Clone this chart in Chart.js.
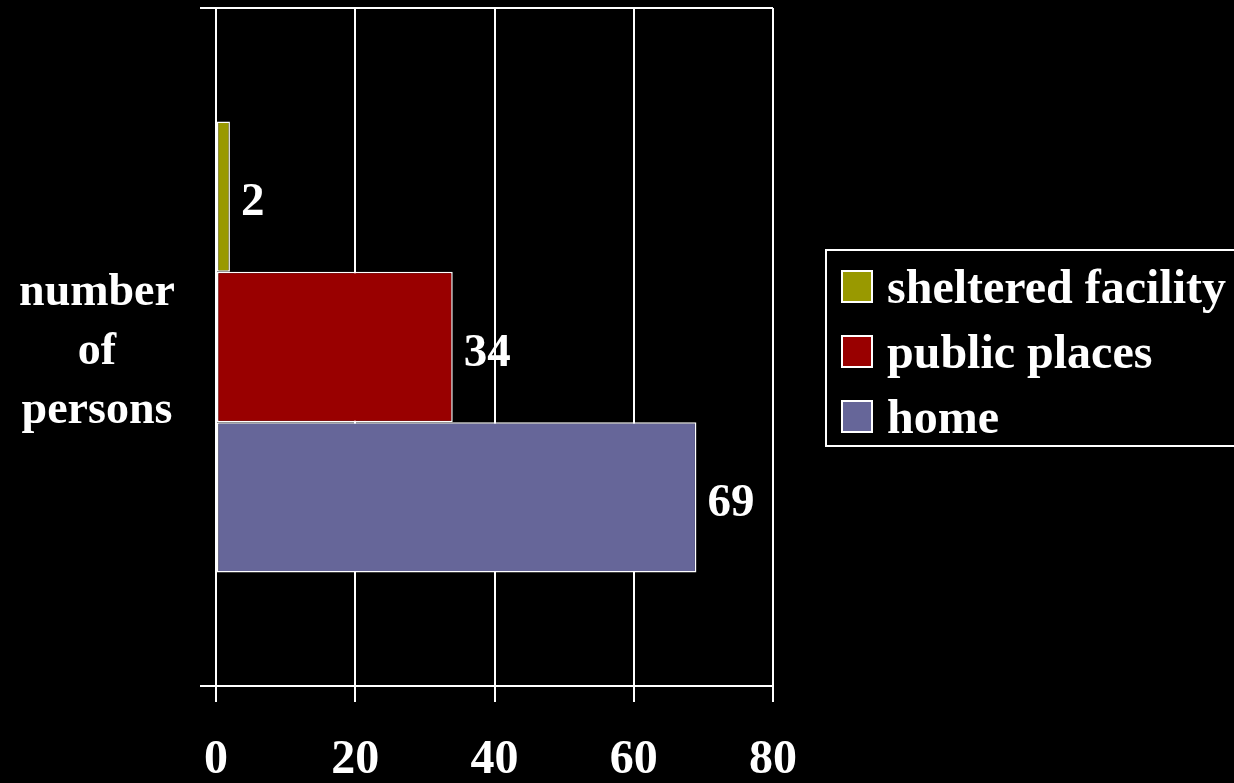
<!DOCTYPE html>
<html>
<head>
<meta charset="utf-8">
<script src="https://cdn.jsdelivr.net/npm/chart.js@4.4.0/dist/chart.umd.min.js"></script>
<style>
  body { margin: 0; background: #000; }
  canvas { display: block; }
</style>
</head>
<body>
<canvas id="chart" width="1234" height="783"></canvas>
<script>
let places = ["sheltered facility", "public places", "home"];
let persons = [2, 34, 69];
let placeColors = ["#999900", "#990000", "#666699"];
let xMin = 0;
let xMax = 80;
let xStep = 20;
let axisTitle = ["number", "of", "persons"];

const serif = '"Liberation Serif", "Times New Roman", serif';

let datasets = places.map((name, i) => ({
  label: name,
  data: [persons[i]],
  backgroundColor: placeColors[i],
  borderColor: "#ffffff",
  borderWidth: 1.5,
  borderSkipped: false,
  categoryPercentage: 0.665,
  barPercentage: 1.0,
}));

// numbers next to the bar ends
const valueLabels = {
  id: "valueLabels",
  afterDatasetsDraw(chart) {
    const ctx = chart.ctx;
    ctx.save();
    ctx.font = "bold 47px " + serif;
    ctx.fillStyle = "#ffffff";
    ctx.textAlign = "left";
    ctx.textBaseline = "alphabetic";
    chart.data.datasets.forEach((ds, i) => {
      chart.getDatasetMeta(i).data.forEach((bar, j) => {
        ctx.fillText(String(ds.data[j]), bar.x + 11, bar.y + 18.5);
      });
    });
    ctx.restore();
  },
};

// horizontal title left of the y axis
const sideTitle = {
  id: "sideTitle",
  afterDraw(chart) {
    const ctx = chart.ctx;
    const mid = (chart.chartArea.top + chart.chartArea.bottom) / 2;
    ctx.save();
    ctx.font = "bold 46px " + serif;
    ctx.fillStyle = "#ffffff";
    ctx.textAlign = "center";
    ctx.textBaseline = "alphabetic";
    axisTitle.forEach((line, i) => {
      ctx.fillText(line, 97, mid - 42 + i * 59);
    });
    ctx.restore();
  },
};

// boxed legend on the right
const boxLegend = {
  id: "boxLegend",
  afterDraw(chart) {
    const ctx = chart.ctx;
    ctx.save();
    ctx.strokeStyle = "#ffffff";
    ctx.lineWidth = 2;
    ctx.strokeRect(826, 250, 420, 196);
    ctx.font = "bold 48px " + serif;
    ctx.textAlign = "left";
    ctx.textBaseline = "alphabetic";
    chart.data.datasets.forEach((ds, i) => {
      const y = 271 + i * 65;
      ctx.fillStyle = ds.backgroundColor;
      ctx.fillRect(842, y, 30, 31);
      ctx.lineWidth = 2;
      ctx.strokeRect(842, y, 30, 31);
      ctx.fillStyle = "#ffffff";
      ctx.fillText(ds.label, 887, y + 32);
    });
    ctx.restore();
  },
};

let config = {
  type: "bar",
  data: {
    labels: [""],
    datasets: datasets,
  },
  options: {
    indexAxis: "y",
    responsive: false,
    animation: false,
    events: [],
    layout: { padding: { top: 8, right: 461, left: 0, bottom: 0 } },
    plugins: {
      legend: { display: false },
      tooltip: { enabled: false },
    },
    scales: {
      x: {
        min: xMin,
        max: xMax,
        ticks: {
          stepSize: xStep,
          autoSkip: false,
          maxRotation: 0,
          color: "#ffffff",
          padding: 30,
          font: { family: serif, size: 48, weight: "bold" },
        },
        grid: { color: "#ffffff", lineWidth: 2, tickLength: 16 },
        border: { color: "#ffffff", width: 2 },
        afterFit(scale) {
          scale.height = 97;
        },
      },
      y: {
        ticks: { display: false },
        grid: { color: "#ffffff", lineWidth: 2, tickLength: 16 },
        border: { color: "#ffffff", width: 2 },
        afterFit(scale) {
          scale.width = 216;
        },
      },
    },
  },
  plugins: [valueLabels, sideTitle, boxLegend],
};

let mainChart = new Chart(document.getElementById("chart"), config);
</script>
</body>
</html>
